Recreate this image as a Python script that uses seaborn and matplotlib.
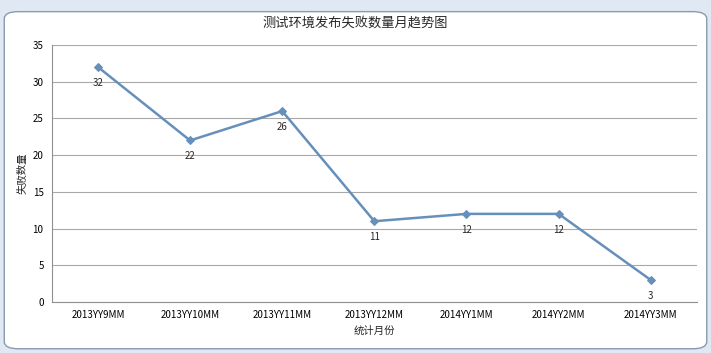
import matplotlib
matplotlib.use("Agg")
import matplotlib.pyplot as plt
import seaborn as sns
import pandas as pd
from matplotlib.patches import FancyBboxPatch

months = ["2013YY9MM", "2013YY10MM", "2013YY11MM", "2013YY12MM", "2014YY1MM", "2014YY2MM", "2014YY3MM"]
failures = [32, 22, 26, 11, 12, 12, 3]
yticks = [0, 5, 10, 15, 20, 25, 30, 35]

sns.set_theme(style="white")
plt.rcParams['font.family'] = ['Noto Sans CJK SC', 'DejaVu Sans']

df = pd.DataFrame({"month": months, "count": failures})

fig = plt.figure(figsize=(7.11, 3.53), dpi=100)
fig.patch.set_facecolor("#dfe8f3")
border = FancyBboxPatch((0.006, 0.012), 0.988, 0.955, boxstyle="round,pad=0,rounding_size=0.02",
                        transform=fig.transFigure, facecolor="white", edgecolor="#8a9bb0",
                        linewidth=1.0, zorder=-10)
fig.patches.append(border)

ax = fig.add_axes([0.073, 0.1445, 0.907, 0.728])
ax.set_zorder(5)
ax.set_facecolor("none")
line_color = "#6690bb"
sns.lineplot(data=df, x="month", y="count", ax=ax, color=line_color, linewidth=1.8,
             marker="D", markersize=4.5, markeredgecolor=line_color, sort=False)

ax.set_xlim(-0.5, len(months) - 0.5)
ax.set_ylim(0, 35)
ax.set_yticks(yticks)
ax.yaxis.grid(True, color="#a8a8a8", linewidth=0.8)
ax.xaxis.grid(False)
for s in ["top", "right"]:
    ax.spines[s].set_visible(False)
for s in ["left", "bottom"]:
    ax.spines[s].set_color("#909090")
    ax.spines[s].set_linewidth(0.8)
ax.tick_params(axis="both", labelsize=7, length=0, colors="black", pad=6)

for i, v in enumerate(failures):
    ax.annotate(str(v), (i, v), textcoords="offset points", xytext=(0, -11.5),
                ha="center", va="center", fontsize=7)

ax.set_xlabel("统计月份", fontsize=7.5, labelpad=4)
ax.set_ylabel("失败数量", fontsize=7.5, labelpad=4)
fig.text(0.5, 0.935, "测试环境发布失败数量月趋势图", ha="center", va="center", fontsize=9.5)

fig.savefig("out.png", dpi=100)
